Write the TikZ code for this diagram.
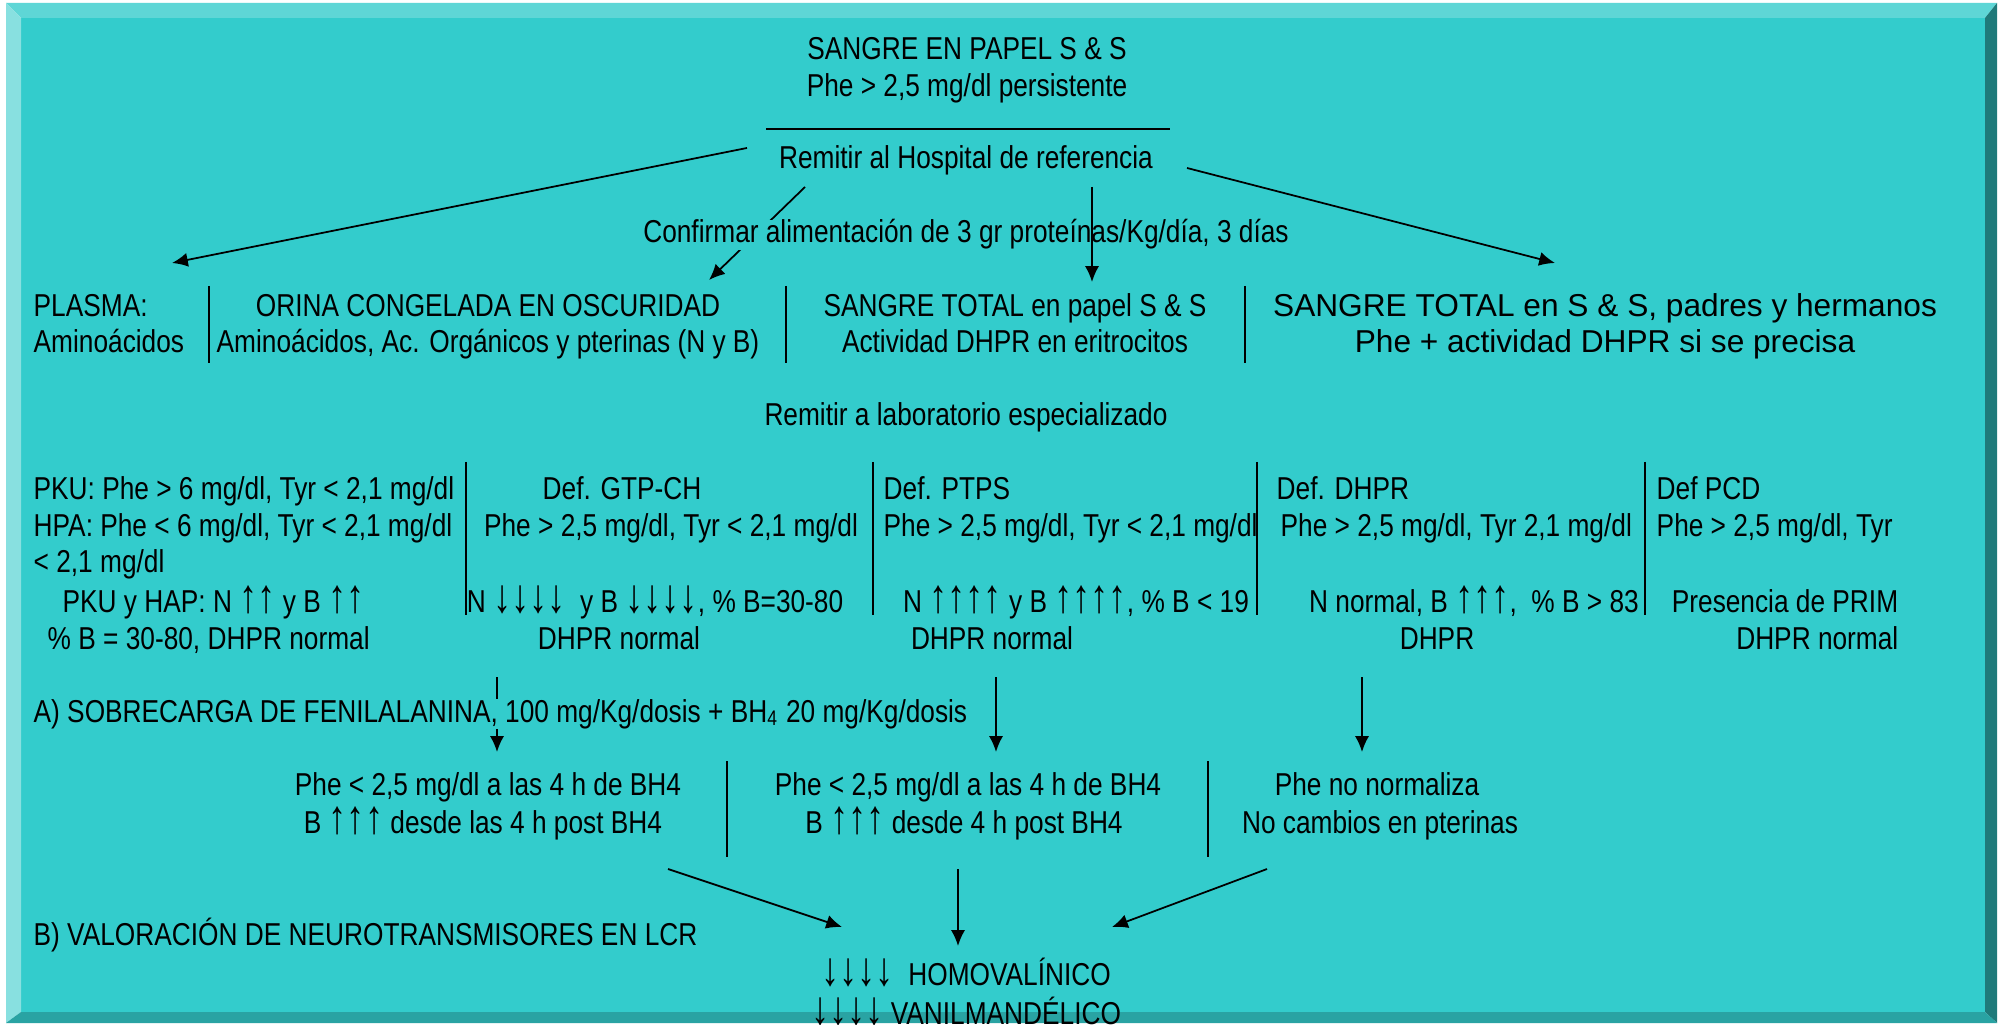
\documentclass[tikz,border=0pt]{standalone}
\usepackage{graphicx}
\usepackage{fontspec}
\setmainfont{Liberation Sans}[FakeStretch=0.83]
\newfontfamily\widefont{Liberation Sans}
\usetikzlibrary{arrows.meta}

\definecolor{face}{HTML}{33CCCC}
\definecolor{bevtop}{HTML}{5ED6D6}
\definecolor{bevleft}{HTML}{88E0E0}
\definecolor{bevright}{HTML}{1F7A7A}
\definecolor{bevbottom}{HTML}{29A3A3}

\newcommand\uarr{\scalebox{1.38}[1.5]{↑}}
\newcommand\darr{\scalebox{1.38}[1.5]{↓}}

\begin{document}
\begin{tikzpicture}[x=0.01cm,y=-0.01cm,
  every node/.style={inner sep=0pt,font=\fontsize{9}{10.5}\selectfont},
  txt/.style={anchor=base},
  ltxt/.style={anchor=base west},
  rtxt/.style={anchor=base east},
  mask/.style={fill=face},
  arr/.style={-{Latex[length=4.5pt,width=4pt]},line width=0.5pt},
  sep/.style={line width=0.5pt}]
\useasboundingbox (0,0) rectangle (2007,1025);
% frame
\fill [white] (0,0) rectangle (2007,1025);
\fill [face] (21,18) rectangle (1985,1012);
\fill [bevtop] (6,3) -- (1997,3) -- (1985,18) -- (21,18) -- cycle;
\fill [bevleft] (6,3) -- (21,18) -- (21,1012) -- (6,1023) -- cycle;
\fill [bevright] (1997,3) -- (1997,1023) -- (1985,1012) -- (1985,18) -- cycle;
\fill [bevbottom] (6,1023) -- (21,1012) -- (1985,1012) -- (1997,1023) -- cycle;
% top
\node [txt] (sangre) at (967,60) {SANGRE EN PAPEL S \& S};
\node [txt] (persist) at (967,97) {Phe > 2,5 mg/dl persistente};
\draw [line width=0.6pt] (766,129) -- (1170,129);
\node [txt] (hospital) at (966,169) {Remitir al Hospital de referencia};
\coordinate (hospL) at (747,148);
\coordinate (hospO) at (805,187);
\coordinate (hospS) at (1092,187);
\coordinate (hospR) at (1187,168);
\coordinate (plasmaIn) at (172,263);
\coordinate (orinaIn) at (709,280);
\coordinate (totalIn) at (1092,282);
\coordinate (familiaIn) at (1555,263);
\draw [arr] (hospL) -- (plasmaIn);
\draw [arr] (hospO) -- (orinaIn);
\node [txt,mask] (confirmar) at (966,243) {Confirmar alimentación de 3 gr proteínas/Kg/día, 3 días};
\draw [arr] (hospS) -- (totalIn);
\draw [arr] (hospR) -- (familiaIn);
% samples
\node [ltxt] (plasma) at (33,317) {PLASMA:};
\node [ltxt] (plasmaAa) at (33,353) {Aminoácidos};
\node [txt] (orina) at (488,317) {ORINA CONGELADA EN OSCURIDAD};
\node [txt] (orinaAa) at (488,353) {Aminoácidos, Ac. Orgánicos y pterinas (N y B)};
\node [txt] (total) at (1015,317) {SANGRE TOTAL en papel S \& S};
\node [txt] (totalDhpr) at (1015,353) {Actividad DHPR en eritrocitos};
\node [txt] (familia) at (1605,317) {\widefont SANGRE TOTAL en S \& S, padres y hermanos};
\node [txt] (familiaPhe) at (1605,353) {\widefont Phe + actividad DHPR si se precisa};
\foreach \x in {209,786,1245}
  \draw [sep] (\x,286) -- (\x,363);
\node [txt] (laboratorio) at (966,426) {Remitir a laboratorio especializado};
% diagnosis
\node [ltxt] (pku) at (33,499) {PKU: Phe > 6 mg/dl, Tyr < 2,1 mg/dl};
\node [ltxt] (hpa) at (33,537) {HPA: Phe < 6 mg/dl, Tyr < 2,1 mg/dl};
\node [ltxt] (hpaTyr) at (33,573) {< 2,1 mg/dl};
\node [ltxt] (pkuN) at (62,612) {PKU y HAP: N \uarr\uarr\ y B \uarr\uarr};
\node [ltxt] (pkuB) at (47,649) {\% B = 30-80, DHPR normal};
\node [txt] (gtp) at (622,499) {Def. GTP-CH};
\node [txt] (gtpPhe) at (671,537) {Phe > 2,5 mg/dl, Tyr < 2,1 mg/dl};
\node [txt] (gtpN) at (655,612) {N \darr\darr\darr\darr\ \ y B \darr\darr\darr\darr, \% B=30-80};
\node [txt] (gtpDhpr) at (619,649) {DHPR normal};
\node [ltxt] (ptps) at (883,499) {Def. PTPS};
\node [ltxt] (ptpsPhe) at (883,537) {Phe > 2,5 mg/dl, Tyr < 2,1 mg/dl};
\node [txt] (ptpsN) at (1076,612) {N \uarr\uarr\uarr\uarr\ y B \uarr\uarr\uarr\uarr, \% B < 19};
\node [txt] (ptpsDhpr) at (992,649) {DHPR normal};
\node [ltxt] (dhpr) at (1276,499) {Def. DHPR};
\node [ltxt] (dhprPhe) at (1280,537) {Phe > 2,5 mg/dl, Tyr 2,1 mg/dl};
\node [txt] (dhprN) at (1474,612) {N normal, B \uarr\uarr\uarr,\ \ \% B > 83};
\node [txt] (dhprDhpr) at (1437,649) {DHPR};
\node [ltxt] (pcd) at (1656,499) {Def PCD};
\node [ltxt] (pcdPhe) at (1656,537) {Phe > 2,5 mg/dl, Tyr};
\node [txt] (pcdPrim) at (1785,612) {Presencia de PRIM};
\node [rtxt] (pcdDhpr) at (1899,649) {DHPR normal};
\foreach \x in {466,873,1257,1645}
  \draw [sep] (\x,462) -- (\x,615);
% A) loading test
\coordinate (gtpOut) at (497,677);
\coordinate (ptpsOut) at (996,677);
\coordinate (dhprOut) at (1362,677);
\coordinate (respAIn) at (497,752);
\coordinate (respBIn) at (996,752);
\coordinate (noRespIn) at (1362,752);
\draw [arr] (gtpOut) -- (respAIn);
\draw [arr] (ptpsOut) -- (respBIn);
\draw [arr] (dhprOut) -- (noRespIn);
\node [ltxt,mask] (sobrecarga) at (33,722) {A) SOBRECARGA DE FENILALANINA, 100 mg/Kg/dosis + BH\textsubscript{4} 20 mg/Kg/dosis};
\node [txt] (respA) at (488,795) {Phe < 2,5 mg/dl a las 4 h de BH4};
\node [txt] (respAB) at (483,833) {B \uarr\uarr\uarr\ desde las 4 h post BH4};
\node [txt] (respB) at (968,795) {Phe < 2,5 mg/dl a las 4 h de BH4};
\node [txt] (respBB) at (964,833) {B \uarr\uarr\uarr\ desde 4 h post BH4};
\node [txt] (noResp) at (1377,795) {Phe no normaliza};
\node [txt] (noRespB) at (1380,833) {No cambios en pterinas};
\foreach \x in {727,1208}
  \draw [sep] (\x,761) -- (\x,857);
% B) neurotransmitters
\coordinate (respAOut) at (668,869);
\coordinate (respBOut) at (958,869);
\coordinate (noRespOut) at (1267,869);
\coordinate (lcrL) at (842,927);
\coordinate (lcrM) at (958,946);
\coordinate (lcrR) at (1112,927);
\draw [arr] (respAOut) -- (lcrL);
\draw [arr] (respBOut) -- (lcrM);
\draw [arr] (noRespOut) -- (lcrR);
\node [ltxt] (lcr) at (33,945) {B) VALORACIÓN DE NEUROTRANSMISORES EN LCR};
\node [txt] (hva) at (966,985) {\darr\darr\darr\darr\ \ HOMOVALÍNICO};
\node [txt] (vma) at (966,1024) {\darr\darr\darr\darr\ VANILMANDÉLICO};
\end{tikzpicture}
\end{document}
